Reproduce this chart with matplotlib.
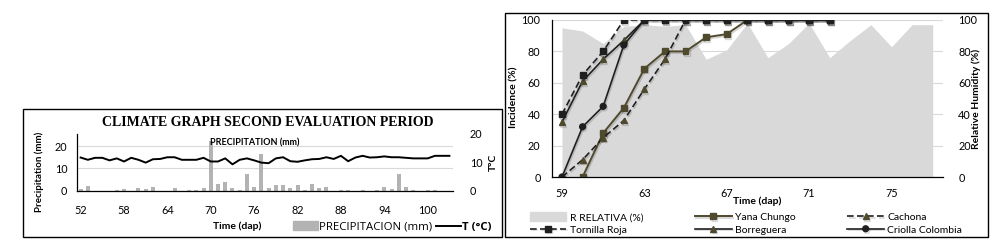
import numpy as np
import matplotlib
matplotlib.use("Agg")
import matplotlib.pyplot as plt
import matplotlib.patheffects as pe
from matplotlib.patches import Rectangle, Patch
from matplotlib.lines import Line2D

plt.rcParams['font.family'] = ['Lato', 'DejaVu Sans']

# ---- climate data (left chart) ----
days_climate = list(range(52, 104))
precip = [0.6, 2.1, 0, 0, 0, 0.4, 0.8, 0, 1.2, 0.6,
          1.7, 0, 0, 1.2, 0, 0.4, 0.5, 1.2, 22.5, 3.0,
          3.9, 1.2, 0.5, 7.6, 1.7, 16.7, 1.2, 2.6, 2.6, 1.2,
          2.6, 0.5, 3.0, 1.2, 1.7, 0, 0.5, 0.5, 0, 0.4,
          0, 0.4, 1.7, 0.6, 7.6, 1.7, 0.4, 0, 0.4, 0.4,
          0, 0]
temp = [11.7, 10.9, 11.6, 11.6, 10.7, 11.4, 10.3, 11.6, 10.9, 9.9,
        11.1, 11.2, 11.8, 11.8, 10.9, 10.9, 10.9, 11.6, 10.3, 10.3,
        11.4, 9.3, 10.9, 11.4, 10.7, 9.9, 9.7, 11.4, 11.8, 10.4,
        10.2, 10.7, 11.1, 11.2, 11.8, 11.2, 12.3, 10.4, 11.7, 12.3,
        11.7, 11.8, 12.1, 11.8, 11.8, 11.6, 11.4, 11.4, 11.4, 12.3,
        12.3, 12.3]
climate_ticks = list(range(52, 101, 6))

# ---- incidence data (right chart) ----
days_inc = list(range(59, 78))
rh = [95, 93, 85, 96, 97, 96, 97, 75, 81, 98,
      76, 85, 98, 76, 87, 97, 83, 97, 97]
yana_days = list(range(60, 73))
yana = [0, 28, 44, 69, 80, 80, 89, 91, 100, 100, 100, 100, 100]
cachona_days = list(range(59, 73))
cachona = [0, 11, 25, 36, 56, 75, 100, 100, 100, 100, 100, 100, 100, 100]
tornilla_days = list(range(59, 73))
tornilla = [40, 65, 80, 100, 100, 100, 100, 100, 100, 100, 100, 100, 100, 100]
borreguera_days = list(range(59, 73))
borreguera = [35, 61, 75, 87, 100, 100, 100, 100, 100, 100, 100, 100, 100, 100]
criolla_days = list(range(59, 73))
criolla = [0, 32, 45, 84, 100, 100, 100, 100, 100, 100, 100, 100, 100, 100]
inc_ticks = [59, 63, 67, 71, 75]

olive = '#4f4a2d'
dark = '#1f1f1f'
grid_c = '#d9d9d9'

fig = plt.figure(figsize=(10.08, 2.46), dpi=100)

# outer boxes like the excel chart frames
fig.patches.append(Rectangle((23/1008, 1-237/246), 479/1008, 128/246, transform=fig.transFigure,
                             fill=False, edgecolor='black', lw=1))
fig.patches.append(Rectangle((505/1008, 1-237/246), 483/1008, 224/246, transform=fig.transFigure,
                             fill=False, edgecolor='black', lw=1))

# ================= left chart =================
ax = fig.add_axes([77/1008, 1-190.7/246, 376/1008, 56.7/246])
xc = np.arange(len(days_climate))
ax.bar(xc, precip, width=0.55, color='#b3b3b3', zorder=2)
ax.set_ylim(0, 25.5)
ax.set_yticks([0, 10, 20])
ax.set_xlim(-0.5, len(days_climate) - 0.5)
ax.set_xticks([days_climate.index(d) for d in climate_ticks])
ax.set_xticklabels([str(d) for d in climate_ticks])
ax.yaxis.grid(True, color=grid_c, lw=0.8)
ax.set_axisbelow(True)
for s in ['top', 'right']:
    ax.spines[s].set_visible(False)
ax.spines['left'].set_linewidth(0.9)
ax.spines['bottom'].set_linewidth(0.9)
ax.tick_params(axis='both', length=0, labelsize=7.8)
ax.tick_params(axis='x', pad=10)
ax.tick_params(axis='y', pad=7)
ax.set_xlabel('Time (dap)', fontsize=7.5, fontweight='bold')
ax.xaxis.set_label_coords(0.4255, -0.55)
ax.set_ylabel('Precipitation (mm)', fontsize=7, fontweight='bold')
ax.yaxis.set_label_coords(-0.088, 0.33)

axt = ax.twinx()
axt.plot(xc, temp, color='black', lw=1.4)
axt.set_ylim(0, 20)
axt.set_yticks([0, 10, 20])
for s in ['top', 'right', 'left', 'bottom']:
    axt.spines[s].set_visible(False)
axt.tick_params(axis='y', length=0, labelsize=7.8, pad=12)
axt.set_ylabel('T°C', fontsize=7.5, fontweight='bold')
axt.yaxis.set_label_coords(1.095, 0.5)

fig.text(268/1008, 1-123/246, 'CLIMATE GRAPH SECOND EVALUATION PERIOD', family='Liberation Serif',
         fontweight='bold', fontsize=10, ha='center', va='center')
fig.text(255/1008, 1-143/246, 'PRECIPITATION (mm)', fontsize=6.5, fontweight='bold',
         ha='center', va='center')

leg1 = fig.legend(handles=[Patch(color='#b3b3b3', label='PRECIPITACION (mm)'),
                           Line2D([], [], color='black', lw=1.4, label='T (°C)')],
                  loc='center left', bbox_to_anchor=(293/1008, 1-227/246), ncol=2, frameon=False,
                  prop={'family': 'Open Sans', 'size': 8.2}, handlelength=2.2, handleheight=0.8,
                  handletextpad=0.1, columnspacing=0.3, borderpad=0, borderaxespad=0)
leg1.get_texts()[1].set_fontweight('bold')

# ================= right chart =================
ax2 = fig.add_axes([551.7/1008, 1-177/246, 391.3/1008, 157/246])
xi = np.arange(len(days_inc))
ax2.fill_between(xi, rh, 0, color='#d9d9d9', lw=0, zorder=2)
ax2.set_ylim(0, 100)
ax2.set_yticks(range(0, 101, 20))
ax2.yaxis.tick_right()
ax2.yaxis.set_label_position('right')
ax2.yaxis.grid(True, color=grid_c, lw=0.8, zorder=0)
ax2.set_axisbelow(True)
ax2.set_xlim(-0.5, len(days_inc) - 0.5)
for s in ['top', 'right', 'left', 'bottom']:
    ax2.spines[s].set_visible(False)
ax2.tick_params(axis='y', length=0, labelsize=7.8, pad=11)
ax2.set_ylabel('Relative Humidity (%)', fontsize=7.5, fontweight='bold')
ax2.yaxis.set_label_coords(1.072, 0.5)
ax2.set_xticks([])

ax1 = fig.add_axes(ax2.get_position())
ax1.set_zorder(ax2.get_zorder() + 1)
ax1.patch.set_visible(False)
ax1.set_ylim(0, 100)
ax1.set_yticks(range(0, 101, 20))
ax1.set_xlim(-0.5, len(days_inc) - 0.5)
ax1.set_xticks([days_inc.index(d) for d in inc_ticks])
ax1.set_xticklabels([str(d) for d in inc_ticks])
for s in ['top', 'right']:
    ax1.spines[s].set_visible(False)
ax1.spines['left'].set_linewidth(0.9)
ax1.spines['bottom'].set_linewidth(0.9)
ax1.tick_params(axis='both', length=0, labelsize=7.8)
ax1.tick_params(axis='x', pad=8)
ax1.tick_params(axis='y', pad=8)
ax1.set_ylabel('Incidence (%)', fontsize=7.5, fontweight='bold')
ax1.yaxis.set_label_coords(-0.086, 0.51)
ax1.set_xlabel('Time (dap)', fontsize=7.5, fontweight='bold')
ax1.xaxis.set_label_coords(0.5247, -0.125)

shadow = [pe.SimpleLineShadow(offset=(0.8, -1.2), alpha=0.15), pe.Normal()]

def idx(ds):
    return [days_inc.index(d) for d in ds]

ms = 4.2
l_yana, = ax1.plot(idx(yana_days), yana, color=olive, lw=1.4, marker='s', ms=ms,
                   mfc=olive, mec=olive, label='Yana Chungo', zorder=3, path_effects=shadow)
l_cach, = ax1.plot(idx(cachona_days), cachona, color=dark, lw=1.2, ls=(0, (4, 2)), marker='^', ms=ms,
                   mfc=olive, mec=olive, label='Cachona', zorder=4, path_effects=shadow)
l_borr, = ax1.plot(idx(borreguera_days), borreguera, color=dark, lw=1.2, marker='^', ms=ms,
                   mfc=olive, mec=olive, label='Borreguera', zorder=5, path_effects=shadow)
l_crio, = ax1.plot(idx(criolla_days), criolla, color=dark, lw=1.2, marker='o', ms=ms,
                   mfc=dark, mec=dark, label='Criolla Colombia', zorder=6, path_effects=shadow)
l_torn, = ax1.plot(idx(tornilla_days), tornilla, color=dark, lw=1.2, ls=(0, (4, 2)), marker='s', ms=ms,
                   mfc=dark, mec=dark, label='Tornilla Roja', zorder=7, path_effects=shadow)

rh_patch = Patch(color='#d9d9d9', label='R RELATIVA (%)')
handles = [rh_patch, l_torn, l_yana, l_borr, l_cach, l_crio]
fig.legend(handles=handles, loc='center left', bbox_to_anchor=(530/1008, 1-223.5/246), ncol=3,
           frameon=False, fontsize=7.5, handlelength=3.5, handleheight=0.9, handletextpad=0.3,
           columnspacing=5.0, labelspacing=0.25, borderpad=0, borderaxespad=0)

fig.savefig('out.png', dpi=100)
